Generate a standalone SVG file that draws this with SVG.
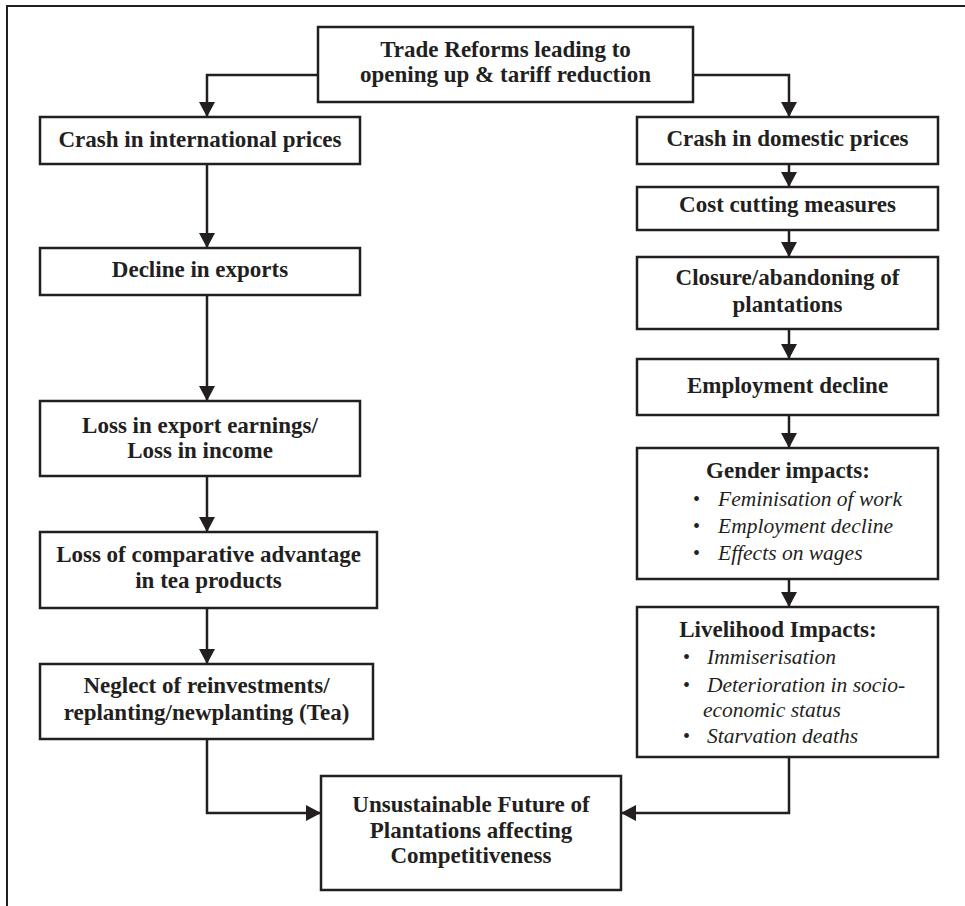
<svg xmlns="http://www.w3.org/2000/svg" width="965" height="906" viewBox="0 0 965 906">
  <style>
    .frame { fill: none; stroke: #231f20; stroke-width: 2; }
    .box { fill: #ffffff; stroke: #231f20; stroke-width: 2.5; }
    .t { font-family: "Liberation Serif", "Times New Roman", serif; font-weight: bold; font-size: 23px; fill: #231f20; text-anchor: middle; }
    .i { font-family: "Liberation Serif", "Times New Roman", serif; font-style: italic; font-size: 21.5px; fill: #231f20; }
    .b { font-family: "Liberation Serif", "Times New Roman", serif; font-size: 20px; fill: #231f20; }
    .conn { fill: none; stroke: #231f20; stroke-width: 2.5; marker-end: url(#arrow); }
  </style>
  <defs>
    <marker id="arrow" viewBox="0 0 15 16" markerWidth="15" markerHeight="16" refX="15" refY="8" orient="auto" markerUnits="userSpaceOnUse">
      <path d="M0,0 L15,8 L0,16 z" fill="#231f20"/>
    </marker>
  </defs>
  <rect x="0" y="0" width="965" height="906" fill="#ffffff"/>
  <rect class="frame" x="7" y="6" width="980" height="920"/>

  <g id="connectors">
    <path class="conn" d="M318,75 H207 V117"/>
    <path class="conn" d="M693,75 H789 V117"/>
    <path class="conn" d="M207,164 V248"/>
    <path class="conn" d="M207,295 V401"/>
    <path class="conn" d="M207,476 V532"/>
    <path class="conn" d="M207,608 V664"/>
    <path class="conn" d="M207,739 V813 H321"/>
    <path class="conn" d="M789,164 V187"/>
    <path class="conn" d="M789,230 V257"/>
    <path class="conn" d="M789,329 V359"/>
    <path class="conn" d="M789,415 V448"/>
    <path class="conn" d="M789,579 V607"/>
    <path class="conn" d="M789,757 V813 H621"/>
  </g>

  <g id="trade-reforms">
    <rect class="box" x="318" y="27" width="375" height="75"/>
    <text class="t" x="505.5" y="57">Trade Reforms leading to</text>
    <text class="t" x="505.5" y="82">opening up &amp; tariff reduction</text>
  </g>

  <g id="crash-international">
    <rect class="box" x="40" y="117" width="320" height="47"/>
    <text class="t" x="200" y="147">Crash in international prices</text>
  </g>

  <g id="decline-exports">
    <rect class="box" x="40" y="248" width="320" height="47"/>
    <text class="t" x="200" y="277">Decline in exports</text>
  </g>

  <g id="loss-earnings">
    <rect class="box" x="40" y="401" width="320" height="75"/>
    <text class="t" x="200" y="433">Loss in export earnings/</text>
    <text class="t" x="200" y="458">Loss in income</text>
  </g>

  <g id="loss-advantage">
    <rect class="box" x="40" y="532" width="337" height="76"/>
    <text class="t" x="208.5" y="562">Loss of comparative advantage</text>
    <text class="t" x="208.5" y="588">in tea products</text>
  </g>

  <g id="neglect">
    <rect class="box" x="40" y="664" width="333" height="75"/>
    <text class="t" x="206.5" y="693">Neglect of reinvestments/</text>
    <text class="t" x="206.5" y="720">replanting/newplanting (Tea)</text>
  </g>

  <g id="crash-domestic">
    <rect class="box" x="637" y="117" width="301" height="47"/>
    <text class="t" x="787.5" y="146">Crash in domestic prices</text>
  </g>

  <g id="cost-cutting">
    <rect class="box" x="637" y="187" width="301" height="43"/>
    <text class="t" x="787.5" y="212">Cost cutting measures</text>
  </g>

  <g id="closure">
    <rect class="box" x="637" y="257" width="301" height="72"/>
    <text class="t" x="787.5" y="285">Closure/abandoning of</text>
    <text class="t" x="787.5" y="312">plantations</text>
  </g>

  <g id="employment-decline">
    <rect class="box" x="637" y="359" width="301" height="56"/>
    <text class="t" x="787.5" y="393">Employment decline</text>
  </g>

  <g id="gender-impacts">
    <rect class="box" x="637" y="448" width="301" height="131"/>
    <text class="t" x="788" y="478">Gender impacts:</text>
    <text class="b" x="693" y="506">•</text>
    <text class="i" x="718" y="506">Feminisation of work</text>
    <text class="b" x="693" y="533">•</text>
    <text class="i" x="718" y="533">Employment decline</text>
    <text class="b" x="693" y="560">•</text>
    <text class="i" x="718" y="560">Effects on wages</text>
  </g>

  <g id="livelihood-impacts">
    <rect class="box" x="637" y="607" width="301" height="150"/>
    <text class="t" x="778" y="637">Livelihood Impacts:</text>
    <text class="b" x="683" y="664">•</text>
    <text class="i" x="707" y="664">Immiserisation</text>
    <text class="b" x="683" y="692">•</text>
    <text class="i" x="707" y="692">Deterioration in socio-</text>
    <text class="i" x="703" y="717">economic status</text>
    <text class="b" x="683" y="743">•</text>
    <text class="i" x="707" y="743">Starvation deaths</text>
  </g>

  <g id="unsustainable-future">
    <rect class="box" x="321" y="776" width="300" height="114"/>
    <text class="t" x="471" y="812">Unsustainable Future of</text>
    <text class="t" x="471" y="838">Plantations affecting</text>
    <text class="t" x="471" y="863">Competitiveness</text>
  </g>
</svg>
